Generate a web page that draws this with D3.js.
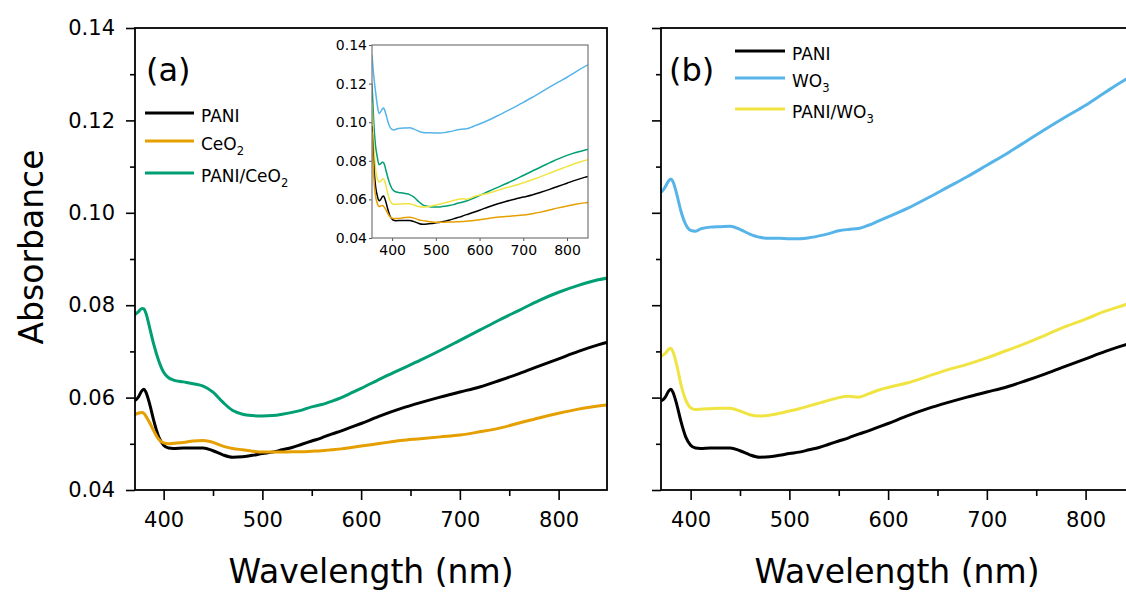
<!DOCTYPE html>
<html><head><meta charset="utf-8">
<script src="https://cdn.jsdelivr.net/npm/d3@7"></script>
<style>body{margin:0;background:#fff;overflow:hidden} svg{display:block}</style>
</head><body>
<svg id="chart" width="1126" height="592"></svg>
<script>
// ---- data ----
const wavelength = [354,358,362,366,370,374,378,380,382,386,390,395,400,405,410,420,430,440,450,460,470,480,490,500,510,520,530,540,550,560,570,580,590,600,620,640,660,680,700,720,740,760,780,800,820,840,850];
const PANI = [0.098,0.078,0.067,0.062,0.0593,0.0600,0.0615,0.0618,0.0612,0.0585,0.0550,0.0515,0.0497,0.0491,0.0490,0.0491,0.0491,0.0491,0.0485,0.0476,0.0471,0.0472,0.0475,0.0479,0.0482,0.0487,0.0492,0.0499,0.0506,0.0513,0.0521,0.0528,0.0536,0.0544,0.0561,0.0576,0.0589,0.0601,0.0612,0.0623,0.0637,0.0652,0.0668,0.0684,0.0700,0.0714,0.0720];
const CeO2 = [0.095,0.072,0.062,0.058,0.0563,0.0566,0.0568,0.0566,0.0560,0.0545,0.0528,0.0510,0.0502,0.0500,0.0501,0.0503,0.0506,0.0507,0.0503,0.0495,0.0490,0.0487,0.0484,0.0482,0.0482,0.0482,0.0483,0.0483,0.0484,0.0485,0.0487,0.0489,0.0492,0.0495,0.0501,0.0507,0.0511,0.0515,0.0519,0.0526,0.0534,0.0545,0.0556,0.0566,0.0575,0.0582,0.0584];
const PANI_CeO2 = [0.120,0.100,0.088,0.082,0.0780,0.0785,0.0793,0.0792,0.0783,0.0750,0.0715,0.0680,0.0655,0.0643,0.0638,0.0634,0.0630,0.0625,0.0612,0.0590,0.0572,0.0564,0.0561,0.0560,0.0561,0.0564,0.0568,0.0573,0.0580,0.0585,0.0592,0.0600,0.0610,0.0620,0.0641,0.0661,0.0681,0.0702,0.0724,0.0746,0.0768,0.0789,0.0810,0.0828,0.0843,0.0855,0.0859];
const WO3 = [0.135,0.124,0.116,0.109,0.1045,0.1055,0.1070,0.1073,0.1068,0.1040,0.1005,0.0975,0.0962,0.0960,0.0965,0.0969,0.0970,0.0971,0.0964,0.0954,0.0947,0.0945,0.0945,0.0944,0.0944,0.0946,0.0950,0.0955,0.0961,0.0964,0.0966,0.0973,0.0982,0.0991,0.1010,0.1032,0.1055,0.1078,0.1103,0.1128,0.1155,0.1182,0.1208,0.1233,0.1261,0.1288,0.1300];
const PANI_WO3 = [0.110,0.088,0.076,0.071,0.0690,0.0695,0.0705,0.0707,0.0700,0.0670,0.0630,0.0595,0.0578,0.0574,0.0575,0.0576,0.0577,0.0577,0.0571,0.0563,0.0560,0.0562,0.0566,0.0571,0.0576,0.0582,0.0588,0.0594,0.0600,0.0603,0.0601,0.0608,0.0616,0.0622,0.0632,0.0646,0.0660,0.0672,0.0686,0.0702,0.0718,0.0736,0.0754,0.0770,0.0787,0.0801,0.0808];

const seriesA = ["PANI","CeO2","PANI/CeO2"];
const seriesB = ["PANI","WO3","PANI/WO3"];
const insetSeries = ["WO3","PANI/CeO2","PANI/WO3","PANI","CeO2"];
const yTicks = [0.04,0.06,0.08,0.10,0.12,0.14];
const yMinor = [0.05,0.07,0.09,0.11,0.13];
const xTicks = [400,500,600,700,800];
const xMinor = [450,550,650,750];
const insetYTicks = [0.04,0.06,0.08,0.10,0.12,0.14];
const insetXTicks = [400,500,600,700,800];

// ---- styles ----
const values = {"PANI":PANI,"CeO2":CeO2,"PANI/CeO2":PANI_CeO2,"WO3":WO3,"PANI/WO3":PANI_WO3};
const colors = {"PANI":"#000000","CeO2":"#E69F00","PANI/CeO2":"#009E73","WO3":"#56B4E9","PANI/WO3":"#F0E442"};
const FONT = "'DejaVu Sans', Verdana, sans-serif";
const svg = d3.select("#chart");
const yScale = d3.scaleLinear([0.04,0.14],[490,28]);

function pts(name){ return wavelength.map((w,i)=>[w, values[name][i]]); }

function addLabel(sel, label, size){
  const parts = label.split(/(\d)/).filter(s=>s.length);
  parts.forEach(p=>{
    if (/^\d$/.test(p)) {
      sel.append("tspan").attr("font-size", size*0.68).attr("dy", size*0.3).text(p);
      sel.append("tspan").attr("font-size", size).attr("dy", -size*0.3).text("");
    } else sel.append("tspan").text(p);
  });
}

function panel(id, x, names, legend, tag, showYLabels){
  const g = svg.append("g");
  const [x0,x1] = x.range();
  const clipId = "clip"+id;
  svg.append("clipPath").attr("id",clipId).append("rect")
     .attr("x",x0).attr("y",28).attr("width",x1-x0).attr("height",462);
  const line = d3.line().x(d=>x(d[0])).y(d=>yScale(d[1])).curve(d3.curveMonotoneX);
  const lg = g.append("g").attr("clip-path",`url(#${clipId})`);
  names.forEach(n=>{
    lg.append("path").attr("d", line(pts(n))).attr("fill","none")
      .attr("stroke",colors[n]).attr("stroke-width",3).attr("stroke-linejoin","round");
  });
  const xa = g.append("g").attr("transform","translate(0,490)")
    .call(d3.axisBottom(x).tickValues(xTicks).tickSize(10).tickPadding(12).tickFormat(d3.format("d")));
  const xm = g.append("g").attr("transform","translate(0,490)")
    .call(d3.axisBottom(x).tickValues(xMinor).tickSize(6).tickFormat(""));
  const ya = g.append("g").attr("transform",`translate(${x0},0)`)
    .call(d3.axisLeft(yScale).tickValues(yTicks).tickSize(9).tickPadding(11)
      .tickFormat(showYLabels ? d3.format(".2f") : ""));
  const ym = g.append("g").attr("transform",`translate(${x0},0)`)
    .call(d3.axisLeft(yScale).tickValues(yMinor).tickSize(5).tickFormat(""));
  [xa,xm,ya,ym].forEach(a=>{
    a.select(".domain").remove();
    a.selectAll(".tick line").attr("stroke","#000").attr("stroke-width",1.6);
    a.selectAll("text").attr("font-family",FONT).attr("font-size",21).attr("fill","#000");
  });
  g.append("rect").attr("x",x0).attr("y",28).attr("width",x1-x0).attr("height",462)
    .attr("fill","none").attr("stroke","#000").attr("stroke-width",1.8);
  g.append("text").attr("x",(x0+x1)/2).attr("y",583).attr("text-anchor","middle")
    .attr("font-family",FONT).attr("font-size",33).text("Wavelength (nm)");
  g.append("text").attr("x",tag.x).attr("y",81).attr("font-family",FONT)
    .attr("font-size",32).text(tag.t);
  names.forEach((n,i)=>{
    const ly = legend.ys[i];
    g.append("line").attr("x1",legend.x).attr("x2",legend.x+legend.w)
      .attr("y1",ly).attr("y2",ly).attr("stroke",colors[n]).attr("stroke-width",3);
    const t = g.append("text").attr("x",legend.x+legend.w+7).attr("y",ly+9)
      .attr("font-family",FONT).attr("font-size",17).attr("fill","#000");
    addLabel(t, n, 17);
  });
  return g;
}

const xA = d3.scaleLinear([371,849],[135,607]);
const xB = d3.scaleLinear([370,848],[661,1133]);
panel("A", xA, seriesA, {x:145, w:49, ys:[113,141,173]}, {x:146,t:"(a)"}, true);
panel("B", xB, seriesB, {x:735, w:50, ys:[51,78,109]}, {x:669,t:"(b)"}, false);

svg.append("text").attr("transform","translate(43,247) rotate(-90)")
  .attr("text-anchor","middle").attr("font-family",FONT).attr("font-size",33).text("Absorbance");

// ---- inset ----
const ix = d3.scaleLinear([354,848],[372,588]);
const iy = d3.scaleLinear([0.04,0.14],[238,45]);
const ig = svg.append("g");
ig.append("rect").attr("x",372).attr("y",45).attr("width",216).attr("height",193).attr("fill","#fff");
svg.append("clipPath").attr("id","clipI").append("rect").attr("x",372).attr("y",45).attr("width",216).attr("height",193);
const iline = d3.line().x(d=>ix(d[0])).y(d=>iy(d[1])).curve(d3.curveMonotoneX);
const il = ig.append("g").attr("clip-path","url(#clipI)");
insetSeries.forEach(n=>{
  il.append("path").attr("d", iline(pts(n))).attr("fill","none")
    .attr("stroke",colors[n]).attr("stroke-width",1.5);
});
const iax = ig.append("g").attr("transform","translate(0,238)")
  .call(d3.axisBottom(ix).tickValues(insetXTicks).tickSize(3).tickPadding(4).tickFormat(d3.format("d")));
const iay = ig.append("g").attr("transform","translate(372,0)")
  .call(d3.axisLeft(iy).tickValues(insetYTicks).tickSize(3).tickPadding(2).tickFormat(d3.format(".2f")));
[iax,iay].forEach(a=>{
  a.select(".domain").remove();
  a.selectAll(".tick line").attr("stroke","#555").attr("stroke-width",1);
  a.selectAll("text").attr("font-family",FONT).attr("font-size",14).attr("fill","#000");
});
ig.append("rect").attr("x",372).attr("y",45).attr("width",216).attr("height",193)
  .attr("fill","none").attr("stroke","#777").attr("stroke-width",1.2);
</script>
</body></html>
